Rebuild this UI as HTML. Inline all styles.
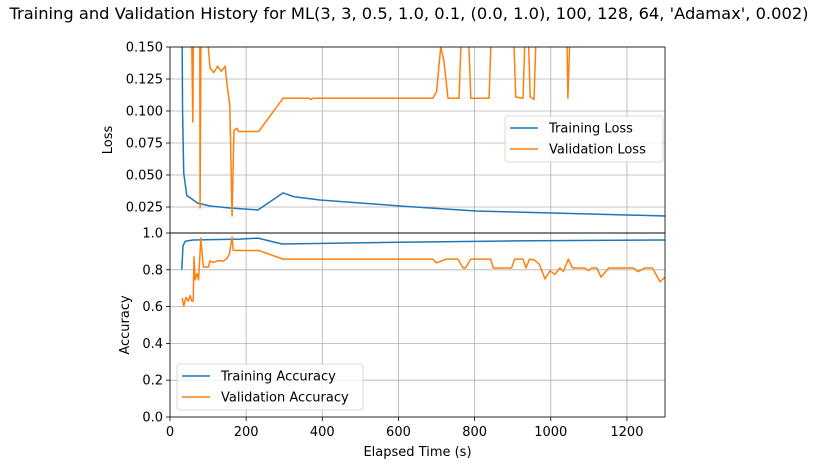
<!DOCTYPE html>
<html><head><meta charset="utf-8"><style>
body{margin:0;background:#fff;}
svg text{font-family:"DejaVu Sans","Liberation Sans",sans-serif;fill:#000;}
</style></head><body>
<svg id="chart" width="818" height="460" xmlns="http://www.w3.org/2000/svg">
<defs>
<clipPath id="ctop"><rect x="170" y="47" width="495" height="186"/></clipPath>
<clipPath id="cbot"><rect x="170" y="233" width="495" height="184"/></clipPath>
</defs>
<text x="409" y="19" font-size="16.3" text-anchor="middle">Training and Validation History for ML(3, 3, 0.5, 1.0, 0.1, (0.0, 1.0), 100, 128, 64, 'Adamax', 0.002)</text>
<g id="grid"></g>
<g id="series"></g>
<g id="axes"></g>
</svg>
<script>
const xTicks=[0,200,400,600,800,1000,1200];
const lossTicks=[0.025,0.050,0.075,0.100,0.125,0.150];
const lossTickLabels=["0.025","0.050","0.075","0.100","0.125","0.150"];
const accTicks=[0,0.2,0.4,0.6,0.8,1.0];
const accTickLabels=["0.0","0.2","0.4","0.6","0.8","1.0"];
const trainLossT=[31,33,36,44,73,105,157,231,297,326,394,604,803,1005,1300];
const trainLossV=[0.2,0.10,0.0516,0.034,0.028,0.0258,0.0242,0.0227,0.036,0.033,0.0305,0.0258,0.0219,0.0203,0.018];
const valLossT=[55,60,62,78,79,82,87,105,115,125,135,145,150,157,163,168,176,180,233,297,365,370,375,690,700,711,719,730,759,770,779,790,838,848,898,908,927,937,946,956,966,1040,1045,1055,1300];
const valLossV=[0.2,0.0914,0.2,0.2,0.0242,0.2,0.2,0.1336,0.130,0.135,0.131,0.135,0.12,0.105,0.018,0.085,0.0865,0.084,0.084,0.110,0.110,0.109,0.110,0.110,0.115,0.15,0.14,0.110,0.110,0.2,0.2,0.110,0.110,0.2,0.2,0.111,0.110,0.2,0.111,0.109,0.2,0.2,0.110,0.2,0.2];
const trainAccT=[31,34,40,60,183,231,294,600,900,1300];
const trainAccV=[0.80,0.93,0.955,0.962,0.967,0.972,0.94,0.95,0.957,0.962];
const valAccT=[32,36,42,48,53,57,61,63,66,71,75,81,85,88,101,105,114,127,140,149,156,163,166,175,233,297,690,700,725,756,770,776,790,842,849,897,905,927,935,944,957,970,985,998,1011,1024,1033,1046,1057,1090,1099,1108,1121,1132,1152,1217,1229,1248,1267,1287,1300];
const valAccV=[0.647,0.603,0.65,0.63,0.66,0.63,0.63,0.87,0.745,0.78,0.745,0.973,0.87,0.815,0.815,0.848,0.84,0.85,0.848,0.86,0.886,0.978,0.907,0.905,0.905,0.858,0.858,0.837,0.858,0.858,0.81,0.81,0.858,0.858,0.81,0.81,0.858,0.858,0.81,0.858,0.853,0.83,0.75,0.795,0.775,0.81,0.79,0.858,0.81,0.81,0.795,0.81,0.81,0.76,0.81,0.81,0.79,0.81,0.81,0.735,0.76];

const NS="http://www.w3.org/2000/svg";
const X0=170,X1=665,XMAX=1300;
const xs=t=>X0+(t/XMAX)*(X1-X0);
const yLoss=v=>47+(0.150-v)*1280;
const yAcc=v=>417-v*184;
function mk(tag,attrs,parent){const e=document.createElementNS(NS,tag);for(const k in attrs)e.setAttribute(k,attrs[k]);parent.appendChild(e);return e;}
const grid=document.getElementById('grid'),ser=document.getElementById('series'),ax=document.getElementById('axes');
xTicks.forEach(t=>{
 const g1=mk('line',{x1:xs(t),x2:xs(t),y1:47,y2:233,stroke:'#b0b0b0','stroke-width':0.8},grid);
 
 
 const g2=mk('line',{x1:xs(t),x2:xs(t),y1:233,y2:417,stroke:'#b0b0b0','stroke-width':0.8},grid);
 
 
});
lossTicks.forEach((v,i)=>{
 const g=mk('line',{x1:X0,x2:X1,y1:yLoss(v),y2:yLoss(v),stroke:'#b0b0b0','stroke-width':0.8},grid);
 
 
 mk('line',{x1:X0-4,x2:X0,y1:yLoss(v),y2:yLoss(v),stroke:'#000','stroke-width':0.8},ax);
 const tx=mk('text',{x:X0-7,y:yLoss(v)+4.5,'font-size':13,'text-anchor':'end'},ax);
 tx.textContent=lossTickLabels[i];
 
 
});
accTicks.forEach((v,i)=>{
 const g=mk('line',{x1:X0,x2:X1,y1:yAcc(v),y2:yAcc(v),stroke:'#b0b0b0','stroke-width':0.8},grid);
 
 
 mk('line',{x1:X0-4,x2:X0,y1:yAcc(v),y2:yAcc(v),stroke:'#000','stroke-width':0.8},ax);
 const tx=mk('text',{x:X0-7,y:yAcc(v)+4.5,'font-size':13,'text-anchor':'end'},ax);
 tx.textContent=accTickLabels[i];
 
 
});
xTicks.forEach(t=>{
 mk('line',{x1:xs(t),x2:xs(t),y1:417,y2:421,stroke:'#000','stroke-width':0.8},ax);
 const tx=mk('text',{x:xs(t),y:436,'font-size':13,'text-anchor':'middle'},ax);
 tx.textContent=String(t);
 
 
});
function line(T,V,yf,color,clip,name){
 const p=mk('polyline',{points:T.map((t,i)=>xs(t)+','+yf(V[i])).join(' '),fill:'none',stroke:color,'stroke-width':1.5,'stroke-linejoin':'round','clip-path':'url(#'+clip+')'},ser);
 
 
}
line(trainLossT,trainLossV,yLoss,'#1f77b4','ctop','training-loss-line');
line(valLossT,valLossV,yLoss,'#ff7f0e','ctop','validation-loss-line');
line(trainAccT,trainAccV,yAcc,'#1f77b4','cbot','training-accuracy-line');
line(valAccT,valAccV,yAcc,'#ff7f0e','cbot','validation-accuracy-line');
const f1=mk('rect',{x:X0,y:47,width:X1-X0,height:186,fill:'none',stroke:'#000','stroke-width':0.8},ax);


const f2=mk('rect',{x:X0,y:233,width:X1-X0,height:184,fill:'none',stroke:'#000','stroke-width':0.8},ax);


const yl=mk('text',{x:0,y:0,'font-size':13,'text-anchor':'middle',transform:'translate(112,140) rotate(-90)'},ax);
yl.textContent='Loss';


const ya=mk('text',{x:0,y:0,'font-size':13,'text-anchor':'middle',transform:'translate(129,325) rotate(-90)'},ax);
ya.textContent='Accuracy';


const xl=mk('text',{x:417.5,y:456,'font-size':13,'text-anchor':'middle'},ax);
xl.textContent='Elapsed Time (s)';


function legend(x,y,w,labels,name){
 const g=mk('g',{},ax);
 
 
 mk('rect',{x:x,y:y,width:w,height:46,rx:3,fill:'#fff','fill-opacity':0.8,stroke:'#d0d0d0','stroke-width':0.8},g);
 labels.forEach((l,i)=>{
  const cy=y+12+i*21;
  mk('line',{x1:x+5,x2:x+33,y1:cy,y2:cy,stroke:i?'#ff7f0e':'#1f77b4','stroke-width':1.5},g);
  const t=mk('text',{x:x+44,y:cy+4.5,'font-size':13},g);
  t.textContent=l;
  
  
 });
}
legend(505,116,158,['Training Loss','Validation Loss'],'loss-legend');
legend(177,364,186,['Training Accuracy','Validation Accuracy'],'accuracy-legend');
</script>
</body></html>
